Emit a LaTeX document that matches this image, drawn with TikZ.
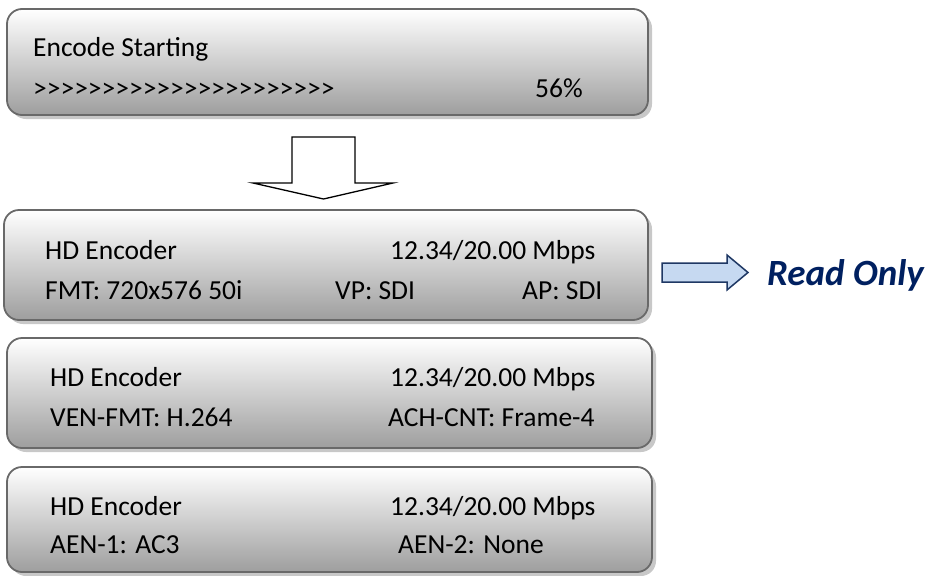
\documentclass[tikz,border=0pt]{standalone}
\usepackage{fontspec}
\setmainfont{Carlito}
\usetikzlibrary{shadows}
\definecolor{boxline}{RGB}{105,105,105}
\definecolor{boxbot}{RGB}{158,158,158}
\definecolor{shadowc}{RGB}{200,200,200}
\definecolor{navy}{RGB}{0,32,96}
\definecolor{arrfill}{RGB}{198,217,241}
\definecolor{arrline}{RGB}{31,56,100}
\begin{document}
\begin{tikzpicture}[x=1pt,y=-1pt,
  panel/.style={draw=boxline, line width=1.8pt, rounded corners=15pt, top color=white, bottom color=boxbot, inner sep=0pt,
    drop shadow={shadow xshift=4pt, shadow yshift=-4pt, fill=shadowc, opacity=1}},
  txt/.style={anchor=base west, inner sep=0pt, font=\fontsize{27.5}{33}\selectfont},
  blockarrow/.style={line width=1.3pt, draw=black, fill=white, line join=miter},
  sidearrow/.style={line width=1.5pt, draw=arrline, fill=arrfill, line join=miter}]
\useasboundingbox (0,0) rectangle (930,576);

% panels
\node[panel, minimum width=641pt, minimum height=106pt] (b1) at (327.5,62) {};
\node[panel, minimum width=644pt, minimum height=110pt] (b2) at (326,265) {};
\node[panel, minimum width=645pt, minimum height=110pt] (b3) at (329.5,393) {};
\node[panel, minimum width=645pt, minimum height=105pt] (b4) at (329.5,519.5) {};

% panel 1
\node[txt] (t1a) at (33,56) {Encode Starting};
\node[txt] (t1b) at (33,97) {>{}>{}>{}>{}>{}>{}>{}>{}>{}>{}>{}>{}>{}>{}>{}>{}>{}>{}>{}>{}>{}>};
\node[txt] (t1c) at (535,97) {56\%};

% panel 2
\node[txt] (t2a) at (45,259) {HD Encoder};
\node[txt] (t2b) at (390,259) {12.34/20.00 Mbps};
\node[txt] (t2c) at (45,299) {FMT: 720x576 50i};
\node[txt] (t2d) at (335,299) {VP: SDI};
\node[txt] (t2e) at (522,299) {AP: SDI};

% panel 3
\node[txt] (t3a) at (50,386) {HD Encoder};
\node[txt] (t3b) at (390,386) {12.34/20.00 Mbps};
\node[txt] (t3c) at (50,426) {VEN-FMT: H.264};
\node[txt] (t3d) at (388,426) {ACH-CNT: Frame-4};

% panel 4
\node[txt] (t4a) at (50,515) {HD Encoder};
\node[txt] (t4b) at (390,515) {12.34/20.00 Mbps};
\node[txt] (t4c) at (50,553) {AEN-1: AC3};
\node[txt] (t4d) at (398,553) {AEN-2: None};

% down block arrow
\draw[blockarrow] (292,137) -- (355,137) -- (355,183) -- (393,183) -- (323.5,199) -- (253,183) -- (292,183) -- cycle;

% side arrow and label
\draw[sidearrow] (662,263) -- (727,263) -- (727,255) -- (748,272.5) -- (727,290) -- (727,282) -- (662,282) -- cycle;
\node[anchor=base west, inner sep=0pt, text=navy, font=\fontsize{37}{41}\selectfont\bfseries\itshape] (ro) at (767,285) {Read Only};
\end{tikzpicture}
\end{document}
